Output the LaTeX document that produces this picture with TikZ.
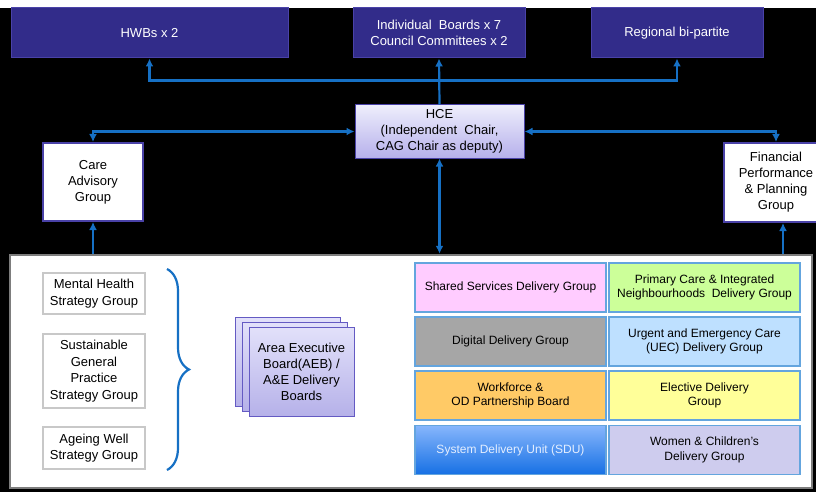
\documentclass[tikz,border=0pt]{standalone}
\usepackage{fontspec}
\setmainfont{Liberation Sans}
\usepackage{tikz}
\usetikzlibrary{arrows.meta,decorations.pathreplacing}

\definecolor{navy}{RGB}{50,44,138}
\definecolor{navyline}{RGB}{74,66,168}
\definecolor{linkblue}{RGB}{22,112,196}
\definecolor{cellblue}{RGB}{100,165,222}
\definecolor{panelgray}{RGB}{125,125,125}
\tikzset{
    every node/.style={align=center,},
    topbox/.style={draw=navyline,fill=navy,text=white,line width=1pt,minimum height=50,
        font=\fontsize{13}{16}\selectfont},
    sidebox/.style={draw=navyline,fill=white,line width=2pt,
        font=\fontsize{13}{16}\selectfont},
    hcebox/.style={draw=navyline,line width=1pt,top color={rgb,255:red,238;green,238;blue,252},
        bottom color={rgb,255:red,182;green,176;blue,235},font=\fontsize{13}{16}\selectfont},
    stratbox/.style={draw={rgb,255:red,200;green,200;blue,200},fill=white,line width=1.3pt,
        minimum width=102,font=\fontsize{13}{16.5}\selectfont},
    aebbox/.style={draw={rgb,255:red,100;green,90;blue,195},line width=1pt,minimum width=105,minimum height=89,
        top color={rgb,255:red,226;green,225;blue,250},bottom color={rgb,255:red,182;green,177;blue,233}},
    cell/.style={draw=cellblue,line width=1.3pt,minimum width=191,minimum height=49,
        font=\fontsize{12}{14.5}\selectfont},
    link/.style={draw=linkblue,line width=2.2pt},
    tip/.tip={Latex[length=8pt,width=8pt]},
}

\begin{document}
\begin{tikzpicture}[x=1pt,y=-1pt]
        \useasboundingbox (0,0) rectangle (816,492);
        \clip (0,0) rectangle (816,492);
        \fill[white] (0,0) rectangle (816,492);
        \fill[black] (0,8) rectangle (816,492);

        % top row
        \node[topbox,minimum width=277] (hwbs) at (149.5,33) {HWBs x 2};
        \node[topbox,minimum width=172] (ind_boards) at (439,33) {Individual\ \ Boards x 7\\Council Committees x 2};
        \node[topbox,minimum width=172] (regional) at (677,33) {Regional bi-partite};

        \node[hcebox,minimum width=169,minimum height=53] (hce) at (439.5,131.5) {HCE\\(Independent\ \ Chair,\\CAG Chair as deputy)};

        \node[sidebox,minimum width=100,minimum height=78] (care) at (93,182) {Care\\Advisory\\Group};
        \node[sidebox,minimum width=104,minimum height=79] (finance) at (776,182.5) {Financial\\Performance\\\& Planning\\Group};

        % bottom panel
        \node[draw=panelgray,fill=white,line width=2.5pt,minimum width=802,minimum height=233] (panel) at (411,371.5) {};

        \node[stratbox,minimum height=41] (mental_health) at (94,293.5) {Mental Health\\Strategy Group};
        \node[stratbox,minimum height=74] (general_practice) at (94,371) {Sustainable\\General\\Practice\\Strategy Group};
        \node[stratbox,minimum height=42] (ageing_well) at (94,448) {Ageing Well\\Strategy Group};

        \coordinate (brace_top) at (167,269);
        \coordinate (brace_bot) at (167,470);
        \draw[link,decorate,decoration={brace,amplitude=22pt}] (brace_top) -- (brace_bot);

        \node[aebbox] (aeb_back) at (287.5,361.5) {};
        \node[aebbox] (aeb_mid) at (294.5,366.5) {};
        \node[aebbox,font=\fontsize{13}{16}\selectfont] (aeb) at (301.5,371.5) {Area Executive\\Board(AEB) /\\A\&E Delivery\\Boards};

        \node[cell,fill={rgb,255:red,255;green,204;blue,255}] (shared) at (510.5,287.5) {Shared Services Delivery Group};
        \node[cell,fill={rgb,255:red,204;green,255;blue,153}] (primary) at (704.5,287.5) {Primary Care \& Integrated\\Neighbourhoods\ \ Delivery Group};
        \node[cell,fill={rgb,255:red,166;green,166;blue,166}] (digital) at (510.5,341.5) {Digital Delivery Group};
        \node[cell,fill={rgb,255:red,190;green,224;blue,255}] (uec) at (704.5,341.5) {Urgent and Emergency Care\\(UEC) Delivery Group};
        \node[cell,fill={rgb,255:red,255;green,202;blue,102}] (workforce) at (510.5,395.5) {Workforce \&\\OD Partnership Board};
        \node[cell,fill={rgb,255:red,255;green,255;blue,153}] (elective) at (704.5,395.5) {Elective Delivery\\Group};
        \node[cell,top color={rgb,255:red,135;green,182;blue,252},bottom color={rgb,255:red,22;green,112;blue,228},
            text={rgb,255:red,228;green,238;blue,255}] (sdu) at (510.5,450) {System Delivery Unit (SDU)};
        \node[cell,fill={rgb,255:red,206;green,204;blue,238}] (women) at (704.5,450) {Women \& Children’s\\Delivery Group};

        % connectors
        \draw[link,-tip] (hce.north) to (ind_boards.south);
        \draw[link,tip-tip] (hwbs.south) -- ++(0,22) -| (regional.south);
        \draw[link,tip-tip] (care.north) |- (hce.west);
        \draw[link,tip-tip] (finance.north) |- (hce.east);
        \draw[link,tip-tip] (hce.south) to (hce.south |- panel.north);
        \draw[link,-tip] (care.south |- panel.north) to (care.south);
        \draw[link,-tip] ([xshift=7pt]finance.south |- panel.north) to ([xshift=7pt]finance.south);
    \end{tikzpicture}
\end{document}
